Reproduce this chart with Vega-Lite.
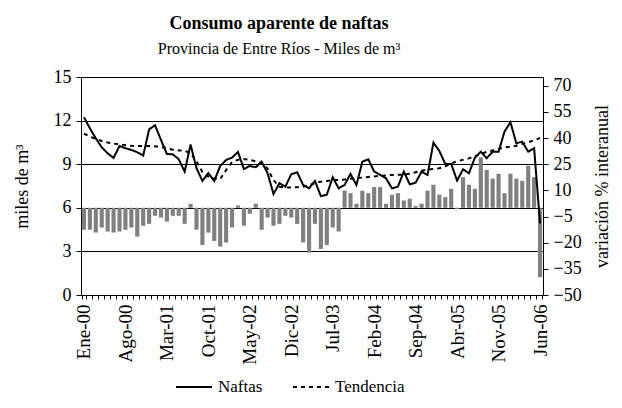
{
  "$schema": "https://vega.github.io/schema/vega-lite/v6.json",
  "width": 462,
  "height": 218,
  "autosize": {"type": "none"},
  "padding": {"left": 81, "top": 77, "right": 79, "bottom": 113},
  "background": "white",
  "config": {
    "font": "Liberation Serif",
    "view": {"stroke": null},
    "axis": {
      "labelFont": "Liberation Serif",
      "titleFont": "Liberation Serif",
      "labelFontSize": 18,
      "titleFontSize": 18,
      "titleFontWeight": "normal",
      "labelColor": "#000",
      "titleColor": "#000",
      "domainColor": "#000",
      "tickColor": "#000",
      "domainWidth": 1,
      "tickWidth": 1
    },
    "legend": {"labelFont": "Liberation Serif", "labelFontSize": 17, "labelColor": "#000"}
  },
  "title": {
    "text": "Consumo aparente de naftas",
    "subtitle": "Provincia de Entre Ríos - Miles de m³",
    "fontSize": 18,
    "fontWeight": "bold",
    "font": "Liberation Serif",
    "subtitleFont": "Liberation Serif",
    "subtitleFontSize": 16,
    "color": "#000",
    "subtitleColor": "#000",
    "anchor": "middle",
    "offset": 11,
    "subtitlePadding": 8,
    "dx": -33
  },
  "data": {
    "values": [
      {"mes": "Ene-00", "Naftas": 12.23, "Tendencia": 11.1, "var": -12.6},
      {"mes": "Feb-00", "Naftas": 11.47, "Tendencia": 10.9, "var": -12.6},
      {"mes": "Mar-00", "Naftas": 10.78, "Tendencia": 10.75, "var": -14.2},
      {"mes": "Abr-00", "Naftas": 10.16, "Tendencia": 10.6, "var": -11.3},
      {"mes": "May-00", "Naftas": 9.75, "Tendencia": 10.5, "var": -13.6},
      {"mes": "Jun-00", "Naftas": 9.43, "Tendencia": 10.42, "var": -14.2},
      {"mes": "Jul-00", "Naftas": 10.25, "Tendencia": 10.37, "var": -13.6},
      {"mes": "Ago-00", "Naftas": 10.1, "Tendencia": 10.3, "var": -12.6},
      {"mes": "Sep-00", "Naftas": 9.98, "Tendencia": 10.27, "var": -11.3},
      {"mes": "Oct-00", "Naftas": 9.82, "Tendencia": 10.25, "var": -16.5},
      {"mes": "Nov-00", "Naftas": 9.59, "Tendencia": 10.25, "var": -10.3},
      {"mes": "Dic-00", "Naftas": 11.4, "Tendencia": 10.25, "var": -9.2},
      {"mes": "Ene-01", "Naftas": 11.68, "Tendencia": 10.23, "var": -4.6},
      {"mes": "Feb-01", "Naftas": 10.67, "Tendencia": 10.18, "var": -5.6},
      {"mes": "Mar-01", "Naftas": 9.7, "Tendencia": 10.1, "var": -7.9},
      {"mes": "Abr-01", "Naftas": 9.68, "Tendencia": 10.0, "var": -4.6},
      {"mes": "May-01", "Naftas": 9.34, "Tendencia": 9.95, "var": -4.6},
      {"mes": "Jun-01", "Naftas": 8.49, "Tendencia": 9.93, "var": -9.2},
      {"mes": "Jul-01", "Naftas": 10.35, "Tendencia": 9.75, "var": 2.3},
      {"mes": "Ago-01", "Naftas": 8.72, "Tendencia": 9.2, "var": -12.6},
      {"mes": "Sep-01", "Naftas": 7.85, "Tendencia": 8.45, "var": -21.3},
      {"mes": "Oct-01", "Naftas": 8.38, "Tendencia": 8.15, "var": -14.2},
      {"mes": "Nov-01", "Naftas": 7.85, "Tendencia": 8.0, "var": -19.0},
      {"mes": "Dic-01", "Naftas": 8.88, "Tendencia": 7.98, "var": -22.2},
      {"mes": "Ene-02", "Naftas": 9.29, "Tendencia": 8.6, "var": -19.9},
      {"mes": "Feb-02", "Naftas": 9.45, "Tendencia": 9.15, "var": -11.3},
      {"mes": "Mar-02", "Naftas": 9.84, "Tendencia": 9.3, "var": 1.3},
      {"mes": "Abr-02", "Naftas": 8.67, "Tendencia": 9.35, "var": -10.3},
      {"mes": "May-02", "Naftas": 8.88, "Tendencia": 9.3, "var": -3.4},
      {"mes": "Jun-02", "Naftas": 8.79, "Tendencia": 9.2, "var": 2.3},
      {"mes": "Jul-02", "Naftas": 9.17, "Tendencia": 9.05, "var": -12.6},
      {"mes": "Ago-02", "Naftas": 8.38, "Tendencia": 8.7, "var": -5.6},
      {"mes": "Sep-02", "Naftas": 6.95, "Tendencia": 7.9, "var": -10.3},
      {"mes": "Oct-02", "Naftas": 7.69, "Tendencia": 7.45, "var": -9.2},
      {"mes": "Nov-02", "Naftas": 7.45, "Tendencia": 7.4, "var": -4.6},
      {"mes": "Dic-02", "Naftas": 8.31, "Tendencia": 7.4, "var": -5.6},
      {"mes": "Ene-03", "Naftas": 8.44, "Tendencia": 7.42, "var": -9.2},
      {"mes": "Feb-03", "Naftas": 7.57, "Tendencia": 7.45, "var": -19.9},
      {"mes": "Mar-03", "Naftas": 7.34, "Tendencia": 7.55, "var": -25.7},
      {"mes": "Abr-03", "Naftas": 7.85, "Tendencia": 7.7, "var": -9.2},
      {"mes": "May-03", "Naftas": 6.8, "Tendencia": 7.8, "var": -23.6},
      {"mes": "Jun-03", "Naftas": 6.9, "Tendencia": 7.85, "var": -21.3},
      {"mes": "Jul-03", "Naftas": 8.1, "Tendencia": 7.9, "var": -11.3},
      {"mes": "Ago-03", "Naftas": 7.34, "Tendencia": 7.92, "var": -13.6},
      {"mes": "Sep-03", "Naftas": 7.57, "Tendencia": 7.95, "var": 9.9},
      {"mes": "Oct-03", "Naftas": 8.33, "Tendencia": 8.0, "var": 8.4},
      {"mes": "Nov-03", "Naftas": 7.57, "Tendencia": 8.03, "var": 2.3},
      {"mes": "Dic-03", "Naftas": 9.17, "Tendencia": 8.08, "var": 9.8},
      {"mes": "Ene-04", "Naftas": 9.34, "Tendencia": 8.12, "var": 8.4},
      {"mes": "Feb-04", "Naftas": 8.49, "Tendencia": 8.16, "var": 11.9},
      {"mes": "Mar-04", "Naftas": 8.26, "Tendencia": 8.2, "var": 11.9},
      {"mes": "Abr-04", "Naftas": 8.03, "Tendencia": 8.23, "var": 2.3},
      {"mes": "May-04", "Naftas": 7.34, "Tendencia": 8.26, "var": 7.5},
      {"mes": "Jun-04", "Naftas": 7.45, "Tendencia": 8.27, "var": 8.4},
      {"mes": "Jul-04", "Naftas": 8.49, "Tendencia": 8.28, "var": 4.2},
      {"mes": "Ago-04", "Naftas": 7.62, "Tendencia": 8.35, "var": 5.2},
      {"mes": "Sep-04", "Naftas": 7.73, "Tendencia": 8.45, "var": 1.1},
      {"mes": "Oct-04", "Naftas": 8.49, "Tendencia": 8.55, "var": 2.3},
      {"mes": "Nov-04", "Naftas": 8.26, "Tendencia": 8.62, "var": 9.8},
      {"mes": "Dic-04", "Naftas": 10.48, "Tendencia": 8.68, "var": 13.2},
      {"mes": "Ene-05", "Naftas": 9.91, "Tendencia": 8.72, "var": 7.5},
      {"mes": "Feb-05", "Naftas": 9.02, "Tendencia": 8.85, "var": 6.1},
      {"mes": "Mar-05", "Naftas": 9.02, "Tendencia": 9.05, "var": 10.9},
      {"mes": "Abr-05", "Naftas": 7.87, "Tendencia": 9.2, "var": -0.8},
      {"mes": "May-05", "Naftas": 8.65, "Tendencia": 9.3, "var": 17.6},
      {"mes": "Jun-05", "Naftas": 8.38, "Tendencia": 9.4, "var": 13.2},
      {"mes": "Jul-05", "Naftas": 9.45, "Tendencia": 9.55, "var": 10.9},
      {"mes": "Ago-05", "Naftas": 9.86, "Tendencia": 9.7, "var": 28.9},
      {"mes": "Sep-05", "Naftas": 9.41, "Tendencia": 9.85, "var": 21.8},
      {"mes": "Oct-05", "Naftas": 9.86, "Tendencia": 9.95, "var": 16.7},
      {"mes": "Nov-05", "Naftas": 9.86, "Tendencia": 10.05, "var": 19.5},
      {"mes": "Dic-05", "Naftas": 11.24, "Tendencia": 10.15, "var": 8.4},
      {"mes": "Ene-06", "Naftas": 11.89, "Tendencia": 10.2, "var": 19.5},
      {"mes": "Feb-06", "Naftas": 10.44, "Tendencia": 10.27, "var": 16.7},
      {"mes": "Mar-06", "Naftas": 10.55, "Tendencia": 10.4, "var": 15.5},
      {"mes": "Abr-06", "Naftas": 9.86, "Tendencia": 10.5, "var": 24.1},
      {"mes": "May-06", "Naftas": 10.1, "Tendencia": 10.65, "var": 17.6},
      {"mes": "Jun-06", "Naftas": 4.93, "Tendencia": 10.8, "var": -39.8}
    ]
  },
  "encoding": {
    "x": {
      "field": "mes",
      "type": "ordinal",
      "sort": null,
      "scale": {"paddingInner": 0.3, "paddingOuter": 0.15},
      "axis": {
        "title": null,
        "labelAngle": -90,
        "labelFont": "Liberation Serif",
        "labelFontSize": 19,
        "labelExpr": "indexof(['Ene-00','Ago-00','Mar-01','Oct-01','May-02','Dic-02','Jul-03','Feb-04','Sep-04','Abr-05','Nov-05','Jun-06'], datum.value) >= 0 ? datum.value : ''",
        "tickBand": "extent",
        "tickSize": 4,
        "labelPadding": 5,
        "grid": false
      }
    }
  },
  "layer": [
    {
      "mark": {"type": "bar", "color": "#808080"},
      "encoding": {
        "y": {
          "field": "var",
          "type": "quantitative",
          "scale": {"domain": [-50, 75], "nice": false},
          "axis": {
            "orient": "right",
            "values": [-50, -35, -20, -5, 10, 25, 40, 55, 70],
            "title": "variación % interanual",
            "titleAngle": 270,
            "labelFont": "Liberation Serif",
            "labelFontSize": 18,
            "titleFontSize": 18,
            "grid": false,
            "tickSize": 5,
            "labelPadding": 5,
            "titlePadding": 30
          }
        }
      }
    },
    {
      "transform": [{"fold": ["Naftas", "Tendencia"], "as": ["serie", "valor"]}],
      "mark": {"type": "line", "color": "#000", "strokeWidth": 2},
      "encoding": {
        "y": {
          "field": "valor",
          "type": "quantitative",
          "scale": {"domain": [0, 15], "nice": false},
          "axis": {
            "orient": "left",
            "values": [0, 3, 6, 9, 12, 15],
            "title": "miles de m³",
            "labelFont": "Liberation Serif",
            "labelFontSize": 18,
            "titleFontSize": 18,
            "grid": true,
            "gridColor": "#000",
            "gridWidth": 1,
            "tickSize": 5,
            "labelPadding": 5,
            "titlePadding": 22
          }
        },
        "strokeDash": {
          "field": "serie",
          "type": "nominal",
          "scale": {"domain": ["Naftas", "Tendencia"], "range": [[1, 0], [4, 4]]},
          "legend": {
            "title": null,
            "orient": "none",
            "legendX": 94,
            "legendY": 291,
            "direction": "horizontal",
            "symbolType": "stroke",
            "symbolSize": 1296,
            "symbolStrokeWidth": 2,
            "symbolStrokeColor": "#000",
            "labelFont": "Liberation Serif",
            "labelFontSize": 17,
            "labelOffset": 5,
            "columnPadding": 26
          }
        }
      }
    }
  ],
  "resolve": {"scale": {"y": "independent"}}
}
